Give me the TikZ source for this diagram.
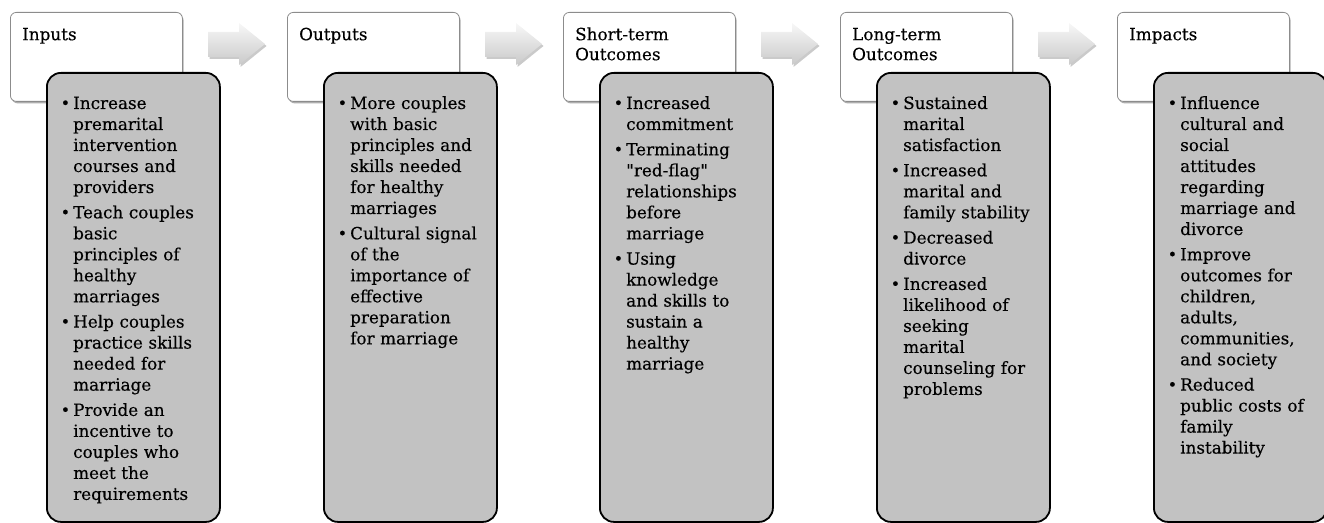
\documentclass[tikz,border=0pt]{standalone}
\usepackage{fontspec}
\setmainfont{DejaVu Serif}[FakeBold=0.35]
\newfontfamily\qfont{DejaVu Serif}[FakeBold=0.35]
\usetikzlibrary{shadows}
\definecolor{boxgray}{RGB}{194,194,194}
\definecolor{hdrline}{RGB}{140,140,140}
\newcommand\qq{{\qfont"}}
\newcommand\bitem[1]{\par\hangindent=10bp\hangafter=1\noindent\makebox[10bp][l]{\hspace*{-2.5bp}\raisebox{0.3bp}{\fontsize{16bp}{16bp}\selectfont\textbullet}}\strut#1\par}
\tikzset{
  hdr/.style={draw=hdrline, line width=0.8bp, fill=white, rounded corners=6bp,
    minimum width=172bp, minimum height=89bp, anchor=north west, inner sep=0,
    drop shadow={shadow xshift=1.2bp, shadow yshift=-2bp, opacity=0.45, fill=black!70}},
  body/.style={draw=black, line width=1.8bp, fill=boxgray, rounded corners=14bp,
    minimum width=173bp, minimum height=449bp, anchor=north west, inner sep=0},
  hdrtext/.style={anchor=north west, inner sep=0, text width=165bp, align=left,
    font=\fontsize{16.8bp}{20bp}\selectfont},
  bodytext/.style={anchor=north west, inner sep=0, text width=165bp,
    font=\fontsize{16.8bp}{21bp}\selectfont\setlength{\parskip}{4.3bp}\raggedright},
  flowarrow/.style={top color=gray!6, bottom color=gray!42, draw=none,
    drop shadow={shadow xshift=1.5bp, shadow yshift=-2bp, opacity=0.35, fill=black!60}}
}
\begin{document}
\begin{tikzpicture}[x=1bp,y=-1bp]
\useasboundingbox (0,0) rectangle (1324,523);
% columns at x = 10, 287, 563, 840, 1117
\foreach \i/\x in {1/10,2/287,3/563,4/840,5/1117}{
  \node[hdr] (h\i) at (\x,12) {};
}
\foreach \x in {10,287,563,840}{
  \path[flowarrow] (\x+198,32) -- (\x+229,32) -- (\x+229,23) -- (\x+255,44)
     -- (\x+229,65) -- (\x+229,57) -- (\x+198,57) -- cycle;
}
\foreach \i/\x in {1/10,2/287,3/563,4/840,5/1117}{
  \node[body] (b\i) at (\x+36,72) {};
}
% header texts
\node[hdrtext] (l1) at (22,26) {\strut Inputs};
\node[hdrtext] (l2) at (299,26) {\strut Outputs};
\node[hdrtext] (l3) at (575,26) {\strut Short-term\\Outcomes};
\node[hdrtext] (l4) at (852,26) {\strut Long-term\\Outcomes};
\node[hdrtext] (l5) at (1129,26) {\strut Impacts};
% body texts
\node[bodytext] (t1) at (63,83.5) {%
\bitem{Increase\newline premarital\newline intervention\newline courses and\newline providers}
\bitem{Teach couples\newline basic\newline principles of\newline healthy\newline marriages}
\bitem{Help couples\newline practice skills\newline needed for\newline marriage}
\bitem{Provide an\newline incentive to\newline couples who\newline meet the\newline requirements}};
\node[bodytext] (t2) at (340,83.5) {%
\bitem{More couples\newline with basic\newline principles and\newline skills needed\newline for healthy\newline marriages}
\bitem{Cultural signal\newline of the\newline importance of\newline effective\newline preparation\newline for marriage}};
\node[bodytext] (t3) at (616,83.5) {%
\bitem{Increased\newline commitment}
\bitem{Terminating\newline \qq red-flag\qq\newline relationships\newline before\newline marriage}
\bitem{Using\newline knowledge\newline and skills to\newline sustain a\newline healthy\newline marriage}};
\node[bodytext] (t4) at (893,83.5) {%
\bitem{Sustained\newline marital\newline satisfaction}
\bitem{Increased\newline marital and\newline family stability}
\bitem{Decreased\newline divorce}
\bitem{Increased\newline likelihood of\newline seeking\newline marital\newline counseling for\newline problems}};
\node[bodytext] (t5) at (1170,83.5) {%
\bitem{Influence\newline cultural and\newline social\newline attitudes\newline regarding\newline marriage and\newline divorce}
\bitem{Improve\newline outcomes for\newline children,\newline adults,\newline communities,\newline and society}
\bitem{Reduced\newline public costs of\newline family\newline instability}};
\end{tikzpicture}
\end{document}
